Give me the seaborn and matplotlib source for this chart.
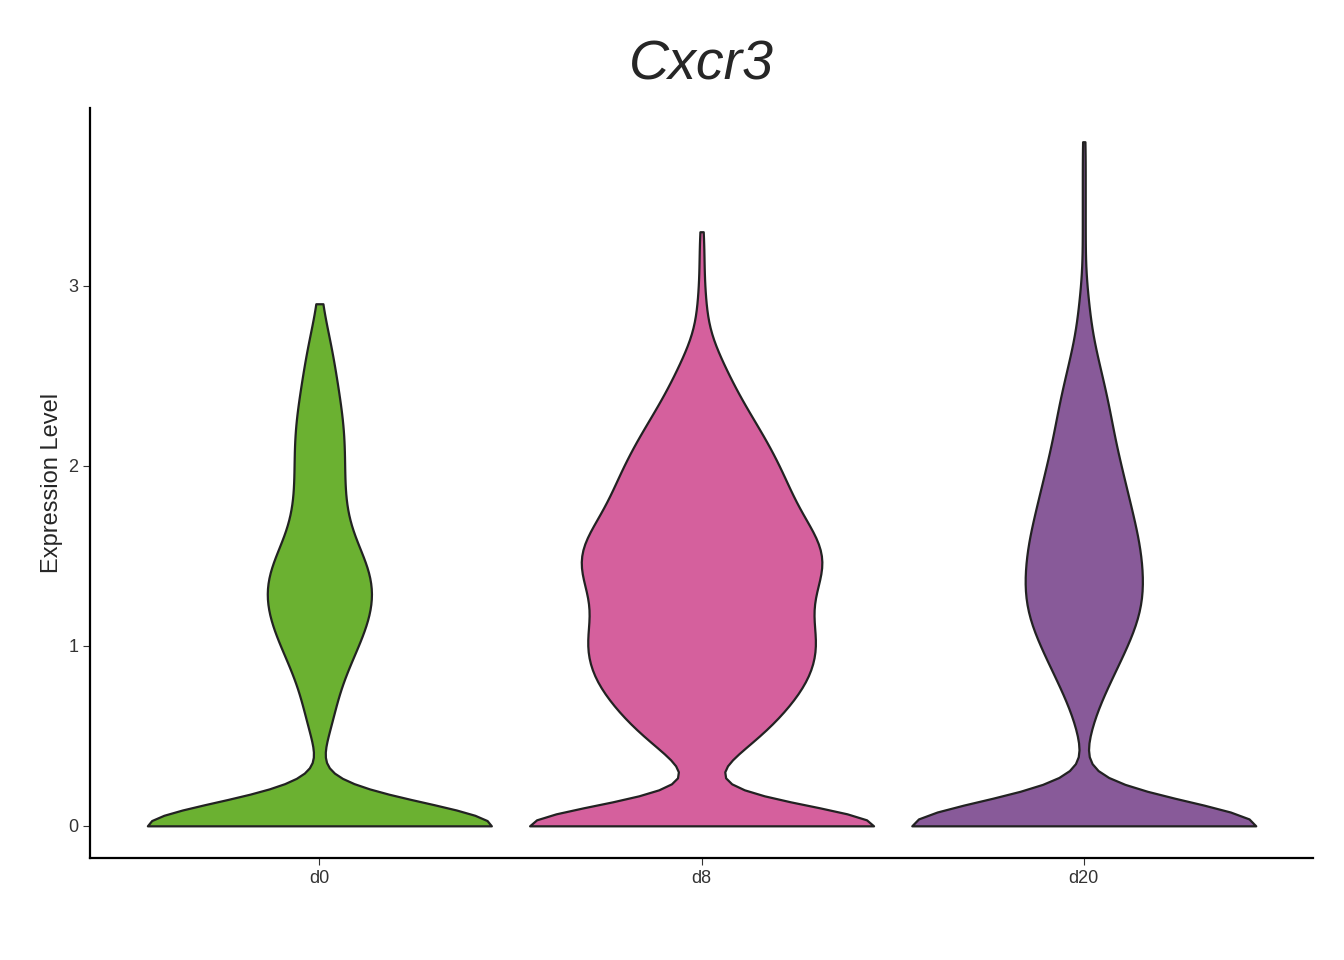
import numpy as np
import pandas as pd
import matplotlib.pyplot as plt
import seaborn as sns

groups = ["d0", "d8", "d20"]
colors = ["#6BB131", "#D5609D", "#885A99"]

# expression levels (0.1 steps) and cell counts
d0_levels = [0.0, 0.5, 0.6, 0.7, 0.8, 0.9, 1.0, 1.1, 1.2, 1.3, 1.4, 1.5, 1.6, 1.7, 1.8, 1.9,
             2.0, 2.1, 2.2, 2.3, 2.4, 2.5, 2.6, 2.7, 2.8, 2.9]
d0_counts = [200, 4, 5, 6, 8, 11, 14, 17, 19, 20, 19, 16, 12, 10, 9, 9,
             9, 9, 9, 8, 7, 6, 5, 4, 2, 1]
d8_levels = [0.0, 0.3, 0.4, 0.5, 0.6, 0.7, 0.8, 0.9, 1.0, 1.1, 1.2, 1.3, 1.4, 1.5, 1.6, 1.7,
             1.8, 1.9, 2.0, 2.1, 2.2, 2.3, 2.4, 2.5, 2.6, 2.7, 2.8, 2.9, 3.0, 3.1, 3.2, 3.3]
d8_counts = [200, 4, 15, 25, 32, 38, 44, 46, 48, 46, 44, 46, 50, 51, 48, 42,
             38, 35, 32, 28, 24, 19, 15, 11, 8, 4, 2, 2, 1, 1, 1, 1]
d20_levels = [0.0, 0.5, 0.6, 0.7, 0.8, 0.9, 1.0, 1.1, 1.2, 1.3, 1.4, 1.5, 1.6, 1.7, 1.8, 1.9,
              2.0, 2.1, 2.2, 2.3, 2.4, 2.5, 2.6, 2.7, 2.8, 2.9, 3.0, 3.2, 3.4, 3.6, 3.8]
d20_counts = [200, 2, 3, 6, 9, 12, 15, 18, 20, 21, 20, 20, 19, 17, 16, 14,
              13, 11, 10, 9, 8, 6, 5, 3, 2, 2, 1, 1, 1, 1, 1]

frames = []
for g, lv, ct in zip(groups, [d0_levels, d8_levels, d20_levels], [d0_counts, d8_counts, d20_counts]):
    frames.append(pd.DataFrame({"group": g, "expr": np.repeat(lv, ct)}))
df = pd.concat(frames, ignore_index=True)

sns.set_style("ticks")
plt.rcParams["font.family"] = ["Liberation Sans", "DejaVu Sans"]

fig, ax = plt.subplots(figsize=(13.44, 9.6), dpi=100)
sns.violinplot(data=df, x="group", y="expr", hue="group", order=groups, palette=colors,
               legend=False, cut=0, density_norm="width", inner=None, width=0.9,
               bw_method=0.15, linecolor="#222222", linewidth=1.6, saturation=1, ax=ax)

ax.set_xlim(-0.6, 2.6)
ax.set_ylim(-0.18, 3.99)
ax.set_yticks([0, 1, 2, 3])
ax.set_xlabel("")
ax.set_ylabel("Expression Level", fontsize=17)
ax.tick_params(labelsize=13, colors="#333333", length=5)
for s in ["left", "bottom"]:
    ax.spines[s].set_color("black")
    ax.spines[s].set_linewidth(1.6)
sns.despine(ax=ax)
ax.set_title("Cxcr3", fontsize=40, style="italic", pad=20)

fig.subplots_adjust(left=0.067, right=0.977, top=0.888, bottom=0.106)
fig.savefig("out.png")
